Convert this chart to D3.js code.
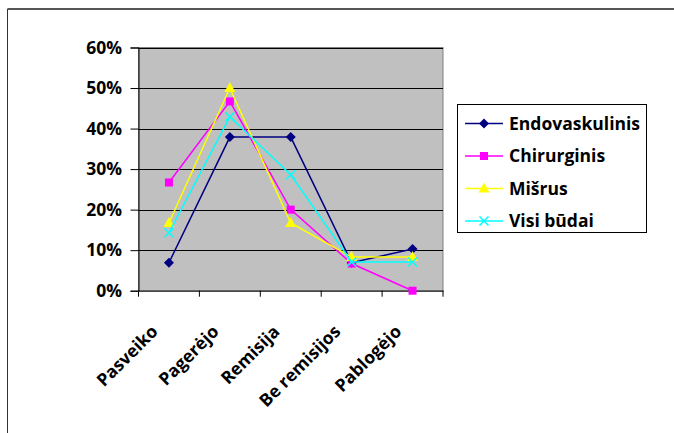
<!DOCTYPE html>
<html><head><meta charset="utf-8">
<script src="https://cdn.jsdelivr.net/npm/d3@7"></script>
<style>
html,body{margin:0;padding:0;background:#fff;}
svg{display:block;font-family:"Open Sans",sans-serif;}
</style></head>
<body>
<svg id="chart" width="674" height="433"></svg>
<script>
const categories = ["Pasveiko","Pagerėjo","Remisija","Be remisijos","Pablogėjo"];
const seriesNames = ["Endovaskulinis","Chirurginis","Mišrus","Visi būdai"];
const endovaskulinis = [6.9, 37.9, 37.9, 6.9, 10.3];
const chirurginis = [26.7, 46.7, 20.0, 6.7, 0.0];
const misrus = [16.7, 50.0, 16.7, 8.3, 8.3];
const visiBudai = [14.3, 42.9, 28.6, 7.1, 7.1];
const yTicks = [0, 10, 20, 30, 40, 50, 60];

const seriesValues = [endovaskulinis, chirurginis, misrus, visiBudai];
const colors = ["#000080", "#FF00FF", "#FFFF00", "#00FFFF"];
const shapes = ["diamond", "square", "triangle", "x"];
const FS = 17.5;

const svg = d3.select("#chart");
const L = 138.5, R = 443, T = 47.5, B = 290.7;

// outer frame
svg.append("line").attr("x1",7.5).attr("x2",674).attr("y1",9).attr("y2",9).attr("stroke","#555").attr("stroke-width",2);
svg.append("line").attr("x1",7.5).attr("x2",7.5).attr("y1",9).attr("y2",433).attr("stroke","#333").attr("stroke-width",1);

const x = d3.scaleBand().domain(categories).range([L, R]);
const y = d3.scaleLinear().domain([0, 60]).range([B, T]);

svg.append("rect").attr("x",L).attr("y",T).attr("width",R-L).attr("height",B-T)
  .attr("fill","#C0C0C0").attr("stroke","#808080").attr("stroke-width",1);

// gridlines
svg.append("g").selectAll("line").data(yTicks.filter(d=>d>0)).join("line")
  .attr("x1",L).attr("x2",R).attr("y1",d=>Math.round(y(d))+0.5).attr("y2",d=>Math.round(y(d))+0.5)
  .attr("stroke","#000").attr("stroke-width",1);

// y axis
const yAxis = svg.append("g").attr("transform",`translate(${L},0)`)
  .call(d3.axisLeft(y).tickValues(yTicks).tickFormat(d=>d+"%").tickSize(8).tickPadding(8.5));
yAxis.select(".domain").attr("stroke","#000");
yAxis.selectAll("line").attr("stroke","#000");
yAxis.selectAll("text").attr("font-size",FS).attr("font-weight","bold").attr("fill","#000").attr("font-family","Open Sans");

// x axis
const xAxis = svg.append("g").attr("transform",`translate(0,${B})`)
  .call(d3.axisBottom(x).tickSize(0).tickFormat(""));
xAxis.select(".domain").attr("stroke","#000");
const bounds = categories.map(c=>x(c)).concat([R]);
svg.append("g").selectAll("line").data(bounds).join("line")
  .attr("x1",d=>d).attr("x2",d=>d).attr("y1",B).attr("y2",B+6).attr("stroke","#000");
svg.append("g").selectAll("text").data(categories).join("text")
  .attr("transform",d=>`translate(${x(d)+x.bandwidth()/2-10},${B+42}) rotate(-45)`)
  .attr("text-anchor","end")
  .attr("font-size",FS).attr("font-weight","bold").attr("fill","#000").text(d=>d);

function marker(g, shape, color, cx, cy){
  if(shape==="diamond"){
    g.append("path").attr("d",`M${cx},${cy-5}L${cx+5},${cy}L${cx},${cy+5}L${cx-5},${cy}Z`).attr("fill",color);
  } else if(shape==="square"){
    g.append("rect").attr("x",cx-4).attr("y",cy-4).attr("width",8).attr("height",8).attr("fill",color);
  } else if(shape==="triangle"){
    g.append("path").attr("d",`M${cx},${cy-6}L${cx+5.5},${cy+4}L${cx-5.5},${cy+4}Z`).attr("fill",color);
  } else {
    g.append("path").attr("d",`M${cx-4.5},${cy-4.5}L${cx+4.5},${cy+4.5}M${cx+4.5},${cy-4.5}L${cx-4.5},${cy+4.5}`)
      .attr("stroke",color).attr("stroke-width",1.5);
  }
}

const line = d3.line().x((d,i)=>x(categories[i])+x.bandwidth()/2).y(d=>y(d));
seriesValues.forEach((vals,si)=>{
  const g = svg.append("g");
  g.append("path").attr("d",line(vals)).attr("fill","none").attr("stroke",colors[si]).attr("stroke-width",1.5);
  vals.forEach((v,i)=>marker(g, shapes[si], colors[si], x(categories[i])+x.bandwidth()/2, y(v)));
});

// legend
const lg = svg.append("g");
lg.append("rect").attr("x",457.5).attr("y",104.5).attr("width",189).attr("height",128)
  .attr("fill","#fff").attr("stroke","#000").attr("stroke-width",1);
const ly = [123.5, 156, 188.5, 221];
seriesNames.forEach((n,i)=>{
  lg.append("line").attr("x1",465).attr("x2",503).attr("y1",ly[i]).attr("y2",ly[i]).attr("stroke",colors[i]).attr("stroke-width",1.5);
  marker(lg, shapes[i], colors[i], 484, ly[i]);
  lg.append("text").attr("x",509).attr("y",ly[i]).attr("dy","0.35em")
    .attr("font-size",FS).attr("font-weight","bold").attr("fill","#000").text(n);
});
</script>
</body></html>
